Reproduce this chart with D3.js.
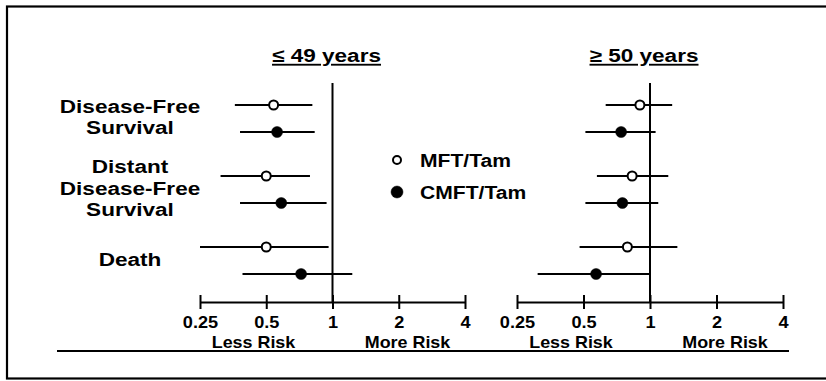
<!DOCTYPE html>
<html>
<head>
<meta charset="utf-8">
<script src="https://cdn.jsdelivr.net/npm/d3@7"></script>
<style>
  body { margin: 0; background: #fff; }
  text { font-family: "Liberation Sans", Arial, sans-serif; font-weight: bold; fill: #000; }
</style>
</head>
<body>
<div id="chart"></div>
<script>
// outcomes (rows) and the label lines drawn beside them
const outcomes = ['DFS', 'DDFS', 'Death'];
const outcomeLabels = [['Disease-Free', 'Survival'], ['Distant', 'Disease-Free', 'Survival'], ['Death']];
const arms = ['MFT/Tam', 'CMFT/Tam'];
const ageGroups = ['\u2264 49 years', '\u2265 50 years'];
const tickValues = [0.25, 0.5, 1, 2, 4];
const tickLabels = ['0.25', '0.5', '1', '2', '4'];

// hazard ratios: [lower, estimate, upper] per outcome
const youngMFT  = [[0.36, 0.54, 0.81], [0.31, 0.50, 0.79], [0.25, 0.50, 0.96]];
const youngCMFT = [[0.38, 0.56, 0.83], [0.38, 0.585, 0.94], [0.39, 0.72, 1.23]];
const oldMFT    = [[0.63, 0.90, 1.26], [0.575, 0.83, 1.21], [0.48, 0.79, 1.33]];
const oldCMFT   = [[0.51, 0.74, 1.06], [0.51, 0.75, 1.09], [0.31, 0.57, 1.00]];

function forestChart() {
    const width = 826, height = 381;

    function chart(selector) {
        const svg = d3.select(selector)
            .append('svg')
            .attr('width', width)
            .attr('height', height);

        // frame, open on the right side
        svg.append('rect')
            .attr('x', 7).attr('y', 6.5)
            .attr('width', 840).attr('height', 372)
            .attr('fill', 'none').attr('stroke', '#000').attr('stroke-width', 2.2);

        // y scales: band per outcome, offset per arm
        const yBand = d3.scaleBand().domain(outcomes).range([83, 296]);
        const yArm = d3.scalePoint().domain(arms).range([-13.5, 13.5]);
        const rowY = (o, a) => yBand(o) + yBand.bandwidth() / 2 + yArm(a);

        // row labels
        outcomes.forEach((o, i) => {
            const lines = outcomeLabels[i];
            const cy = yBand(o) + yBand.bandwidth() / 2;
            lines.forEach((t, j) => {
                const base = cy + 5 + (j - (lines.length - 1) / 2) * 21.5;
                svg.append('text')
                    .attr('transform', `translate(130,${base}) scale(1.22,1)`)
                    .attr('text-anchor', 'middle')
                    .style('font-size', '18.5px')
                    .text(t);
            });
        });

        const panels = [
            {title: ageGroups[0], range: [200, 465], series: [youngMFT, youngCMFT]},
            {title: ageGroups[1], range: [517, 783], series: [oldMFT, oldCMFT]}
        ];
        const axisY = 302;

        panels.forEach(p => {
            const x = d3.scaleLog().base(2).domain([0.25, 4]).range(p.range);
            const g = svg.append('g');

            // reference line at 1
            g.append('line')
                .attr('x1', x(1)).attr('x2', x(1))
                .attr('y1', 83).attr('y2', axisY)
                .attr('stroke', '#000').attr('stroke-width', 2);

            // axis
            const xAxis = d3.axisBottom(x)
                .tickValues(tickValues)
                .tickFormat((d, i) => tickLabels[i])
                .tickSizeInner(7)
                .tickSizeOuter(0);
            const ax = g.append('g')
                .attr('transform', `translate(0,${axisY})`)
                .call(xAxis);
            ax.select('.domain').attr('stroke-width', 2);
            ax.selectAll('.tick line').attr('y1', -7).attr('stroke-width', 2);
            ax.selectAll('.tick text')
                .attr('y', 26).attr('dy', null)
                .attr('transform', 'scale(1.1,1)')
                .style('font-size', '16.5px')
                .style('font-family', '"Liberation Sans", Arial, sans-serif')
                .style('font-weight', 'bold');

            // Less / More risk
            [['Less Risk', -79], ['More Risk', 75]].forEach(([t, dx]) => {
                g.append('text')
                    .attr('transform', `translate(${x(1) + dx},348) scale(1.12,1)`)
                    .attr('text-anchor', 'middle')
                    .style('font-size', '16px')
                    .text(t);
            });

            // title
            g.append('text')
                .attr('transform', `translate(${x(1) - 6},62) scale(1.22,1)`)
                .attr('text-anchor', 'middle')
                .style('font-size', '18.5px')
                .style('text-decoration', 'underline')
                .text(p.title);

            // intervals and points
            p.series.forEach((s, k) => {
                const arm = arms[k];
                const rows = g.selectAll(null)
                    .data(s.map((d, i) => ({o: outcomes[i], lo: d[0], est: d[1], hi: d[2]})))
                    .enter();
                rows.append('line')
                    .attr('x1', d => x(d.lo)).attr('x2', d => x(d.hi))
                    .attr('y1', d => rowY(d.o, arm)).attr('y2', d => rowY(d.o, arm))
                    .attr('stroke', '#000').attr('stroke-width', 2);
                rows.append('circle')
                    .attr('cx', d => x(d.est))
                    .attr('cy', d => rowY(d.o, arm))
                    .attr('r', k === 0 ? 4.5 : 5.5)
                    .attr('fill', k === 0 ? '#fff' : '#000')
                    .attr('stroke', '#000')
                    .attr('stroke-width', k === 0 ? 2 : 0.5);
            });
        });

        // legend
        const legend = svg.append('g');
        arms.forEach((a, i) => {
            const ly = 160 + i * 32;
            legend.append('circle')
                .attr('cx', 397).attr('cy', ly)
                .attr('r', i === 0 ? 4 : 6)
                .attr('fill', i === 0 ? '#fff' : '#000')
                .attr('stroke', '#000').attr('stroke-width', i === 0 ? 2 : 0.5);
            legend.append('text')
                .attr('transform', `translate(420,${ly + 7}) scale(1.14,1)`)
                .style('font-size', '18.5px')
                .text(a);
        });

        // bottom rule
        svg.append('line')
            .attr('x1', 57).attr('x2', 789)
            .attr('y1', 351).attr('y2', 351)
            .attr('stroke', '#000').attr('stroke-width', 2);
    }

    return chart;
}

forestChart()('#chart');
</script>
</body>
</html>
